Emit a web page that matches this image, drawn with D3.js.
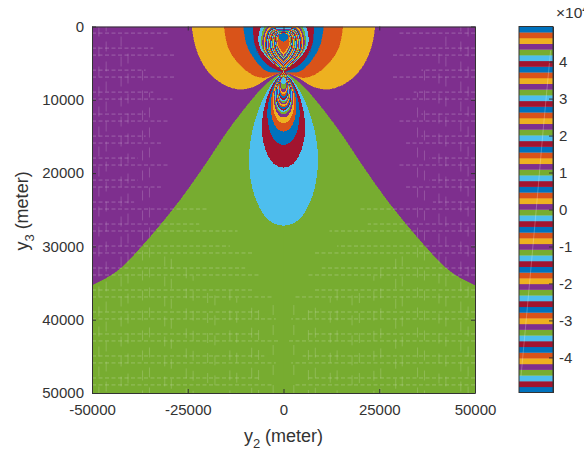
<!DOCTYPE html>
<html>
<head>
<meta charset="utf-8">
<script src="https://cdn.jsdelivr.net/npm/d3@7"></script>
<style>
  html, body { margin: 0; padding: 0; background: #fff; overflow: hidden; }
  svg { display: block; }
  text { font-family: "Liberation Sans", sans-serif; fill: #333; }
  .tick text { font-size: 15px; fill: #333; }
  .domain, .tick line { stroke: #333; }
</style>
</head>
<body>
<svg id="chart" width="584" height="453"></svg>
<script>
// Colour cycle of the map, in colormap order.
const cycle = ["#0072BD", "#D95319", "#EDB120", "#7E2F8E", "#77AC30", "#4DBEEE", "#A2142F"];

const xTicks = [-50000, -25000, 0, 25000, 50000];
const yTicks = [0, 10000, 20000, 30000, 40000, 50000];
const barTicks = [-4, -3, -2, -1, 0, 1, 2, 3, 4];
const barRange = [-4.95, 4.95];
const barLevels = 64;

// Edge of the green region, from the side of the plot up to the cusp: [|y2|, y3].
const greenEdge = [[50000, 35300], [46600, 34440], [42700, 33080], [34800, 28700], [27000, 23700], [20500, 18900], [14000, 13850], [5600, 8400], [2500, 7000], [0, 6200]];

// Side lobes above the cusp, outer to inner: [|y2|, y3] from the surface down to the cusp.
const yellowLobe = [[23900, 0], [23050, 2530], [20900, 5260], [17400, 7300], [12200, 8530], [7800, 8210], [3500, 6850], [400, 6170]];
const orangeLobe = [[15500, 0], [14350, 2980], [11750, 5030], [8250, 6530], [5200, 6980], [900, 6260]];
const blueLobe = [[10450, 0], [9550, 2530], [7400, 4570], [4350, 6080], [400, 6260]];
const redLobe = [[7850, 0], [7650, 2070], [6100, 4120], [3500, 5480], [400, 6170]];

// Closed rings above the cusp, continuing the levels of the lobes (first one light blue).
const upperWidth = [6525, 5873, 5481, 5168, 4907, 4698, 4489, 4307, 4124, 3967, 3811, 3654, 3497, 3341, 3184, 3028, 2871, 2714, 2558, 2401, 2245, 2088, 1958, 1827, 1697, 1566, 1253];
const upperTop = [-1160, -750, -340, -140, 0, 95, 180, 245, 315, 370, 425, 480, 520, 560, 600, 640, 680, 720, 750, 780, 805, 830, 860, 890, 900, 915, 955];
const upperBottom = [6070, 6070, 6000, 6000, 5930, 5930, 5865, 5800, 5730, 5660, 5590, 5520, 5390, 5320, 5250, 5115, 5050, 4980, 4840, 4700, 4570, 4430, 4300, 4160, 3960, 3615, 2115];

// Closed rings below the cusp, outer to inner (first one light blue).
const lowerWidth = [9005, 5664, 4254, 3393, 2871, 2558, 2349, 2192, 2062, 1931, 1827, 1723, 1618, 1514, 1409, 1305, 1201, 1096, 992, 887, 783, 626];
const lowerTop = [6070, 6140, 6210, 6250, 6270, 6320, 6340, 6370, 6400, 6420, 6450, 6480, 6510, 6530, 6560, 6590, 6620, 6640, 6670, 6700, 6750, 6890];
const lowerBottom = [27170, 19260, 16160, 14350, 13200, 12410, 11930, 11660, 11460, 11250, 11050, 10840, 10640, 10430, 10230, 10030, 9750, 9480, 9210, 8930, 8530, 7840];

// Faint seams in the field: rows (y3) with how close to the centre each reaches,
// columns (|y2|) with the depth each starts from.
const seamRows = [900, 2950, 3900, 5950, 6900, 8950, 9900, 11950, 12900, 14950, 15900, 17950, 18900, 20950, 21900, 23950, 24900, 26950, 27900, 29950, 30900, 32950, 33900, 35950, 36900, 38950, 39900, 41950, 42900, 44950, 45900, 47950, 48900];
const seamReach = [30000, 34000, 28000, 36000, 28000, 34000, 29000, 36000, 30000, 36000, 32000, 38000, 30000, 38000, 32000, 39000, 20000, 22000, 12000, 14000, 8000, 10000, 6000, 8000, 3000, 6000, 2000, 6000, 1000, 5000, 2000, 6000, 3000];
const seamCols = [48200, 46300, 42400, 40600, 36800, 35000, 31000, 29300, 25400, 23600, 19800, 17900, 14000, 12200, 8300, 6500, 2700];
const seamColTop = [0, 0, 0, 3000, 6000, 9000, 30000, 31000, 33000, 34000, 35000, 36000, 36000, 37000, 37000, 38000, 38000];

// Light streak across the colorbar: [position across the bar 0..1, value].
const barStreak = [[0.93, 4.3], [0.71, 2.14], [0.53, 0.24], [0.35, -1.6], [0.06, -4.5]];

const width = 584;
const height = 453;
const margin = {top: 26.5, right: 109, bottom: 60, left: 92};
const bar = {left: 519, right: 553, top: 26.5, bottom: 392.5};

const svg = d3.select("#chart");

const xScale = d3.scaleLinear().domain([-50000, 50000]).range([margin.left, width - margin.right]);
const yScale = d3.scaleLinear().domain([0, 50000]).range([margin.top, height - margin.bottom]);

svg.append("clipPath").attr("id", "plot")
  .append("rect")
  .attr("x", xScale(-50000)).attr("y", yScale(0))
  .attr("width", xScale(50000) - xScale(-50000))
  .attr("height", yScale(50000) - yScale(0));

const g = svg.append("g").attr("clip-path", "url(#plot)");

const curve = d3.line().x((v) => xScale(v[0])).y((v) => yScale(v[1])).curve(d3.curveCatmullRom.alpha(0.5));

// One side of a region: curved edge, closed along the given points.
function halfPath(edge, side, closing) {
  const pts = edge.map((v) => [side * v[0], v[1]]);
  const tail = closing.map((v) => `L${xScale(side * v[0])},${yScale(v[1])}`).join("");
  return curve(pts) + tail + "Z";
}

function drawSides(edge, closing, fill) {
  [-1, 1].forEach((side) => {
    g.append("path")
      .attr("d", halfPath(edge, side, closing))
      .attr("fill", fill)
      .attr("stroke", fill)
      .attr("stroke-width", 0.4)
      .attr("shape-rendering", "crispEdges");
  });
}

// Background level and the green region.
g.append("rect")
  .attr("x", xScale(-50000)).attr("y", yScale(0))
  .attr("width", xScale(50000) - xScale(-50000))
  .attr("height", yScale(50000) - yScale(0))
  .attr("fill", cycle[3]);
drawSides(greenEdge, [[0, 50000], [50000, 50000]], cycle[4]);

// Seams.
seamRows.forEach((row, i) => {
  [-1, 1].forEach((side) => {
    g.append("line")
      .attr("x1", xScale(side * 50000)).attr("x2", xScale(side * seamReach[i]))
      .attr("y1", yScale(row)).attr("y2", yScale(row))
      .attr("stroke", "#fff").attr("stroke-opacity", 0.28)
      .attr("stroke-width", 0.9)
      .attr("stroke-dasharray", "4 2.5");
  });
});
seamCols.forEach((col, i) => {
  [-1, 1].forEach((side) => {
    g.append("line")
      .attr("x1", xScale(side * col)).attr("x2", xScale(side * col))
      .attr("y1", yScale(seamColTop[i])).attr("y2", yScale(50000))
      .attr("stroke", "#fff").attr("stroke-opacity", 0.2)
      .attr("stroke-width", 0.9)
      .attr("stroke-dasharray", "10 10")
      .attr("stroke-dashoffset", i * 5);
  });
});

// Lobes above the cusp.
[[yellowLobe, cycle[2]], [orangeLobe, cycle[1]], [blueLobe, cycle[0]], [redLobe, cycle[6]]].forEach(([edge, fill]) => {
  drawSides(edge, [[0, edge[edge.length - 1][1]], [0, 0]], fill);
});

// Ring outlines as fractions of [half width, height], from one tip to the other side.
const lowerShape = [[0, 0], [0.4, 0.1], [0.8, 0.3], [1, 0.55], [0.85, 0.8], [0.45, 0.96], [0, 1]];
const upperShape = [[0, 1], [0.55, 0.8], [0.95, 0.55], [1, 0.35], [0.75, 0.05], [0, 0]];

function ringPath(shape, w, top, bottom) {
  const right = shape.map((v) => [v[0] * w, top + v[1] * (bottom - top)]);
  const left = right.slice(0, -1).reverse().map((v) => [-v[0], v[1]]);
  return curve(right.concat(left)) + "Z";
}

lowerWidth.forEach((w, i) => {
  g.append("path")
    .attr("d", ringPath(lowerShape, w, lowerTop[i], lowerBottom[i]))
    .attr("fill", cycle[(5 + i) % 7])
    .attr("shape-rendering", "crispEdges");
});
upperWidth.forEach((w, i) => {
  g.append("path")
    .attr("d", ringPath(upperShape, w, upperTop[i], upperBottom[i]))
    .attr("fill", cycle[(((5 - i) % 7) + 7) % 7])
    .attr("shape-rendering", "crispEdges");
});

// Axes.
const gridSize = 4;
svg.append("g").attr("transform", `translate(0, ${yScale(50000)})`)
  .call(d3.axisBottom(xScale).tickValues(xTicks).tickFormat(String).tickSize(-gridSize).tickSizeOuter(0).tickPadding(11));
svg.append("g").attr("transform", `translate(0, ${yScale(0)})`)
  .call(d3.axisTop(xScale).tickValues(xTicks).tickFormat("").tickSize(-gridSize).tickSizeOuter(0));
svg.append("g").attr("transform", `translate(${xScale(-50000)}, 0)`)
  .call(d3.axisLeft(yScale).tickValues(yTicks).tickFormat(String).tickSize(-gridSize).tickSizeOuter(0).tickPadding(8));
svg.append("g").attr("transform", `translate(${xScale(50000)}, 0)`)
  .call(d3.axisRight(yScale).tickValues(yTicks).tickFormat("").tickSize(-gridSize).tickSizeOuter(0));

const xLabel = svg.append("text")
  .attr("x", 283.5).attr("y", 442)
  .attr("text-anchor", "middle").attr("font-size", 18);
xLabel.append("tspan").text("y");
xLabel.append("tspan").attr("dy", 6).attr("font-size", 13).text("2");
xLabel.append("tspan").attr("dy", -6).text(" (meter)");

const yLabel = svg.append("text")
  .attr("transform", "translate(27.5, 211) rotate(-90)")
  .attr("text-anchor", "middle").attr("font-size", 18);
yLabel.append("tspan").text("y");
yLabel.append("tspan").attr("dy", 6).attr("font-size", 13).text("3");
yLabel.append("tspan").attr("dy", -6).text(" (meter)");

// Colorbar.
const barScale = d3.scaleLinear().domain(barRange).range([bar.bottom, bar.top]);
const barX = d3.scaleLinear().domain([0, 1]).range([bar.left, bar.right]);
const levels = d3.range(barLevels);
const levelStep = (barRange[1] - barRange[0]) / barLevels;

svg.append("g").selectAll("rect")
  .data(levels)
  .join("rect")
  .attr("x", bar.left)
  .attr("width", bar.right - bar.left)
  .attr("y", (i) => barScale(barRange[0] + (i + 1) * levelStep))
  .attr("height", barScale(barRange[0]) - barScale(barRange[0] + levelStep) + 0.3)
  .attr("fill", (i) => cycle[(barLevels - 1 - i) % 7]);

svg.append("path")
  .attr("d", d3.line().x((v) => barX(v[0])).y((v) => barScale(v[1])).curve(d3.curveCatmullRom)(barStreak))
  .attr("fill", "none")
  .attr("stroke", "#fff").attr("stroke-opacity", 0.3).attr("stroke-width", 0.8);

svg.append("g").attr("transform", `translate(${bar.right}, 0)`)
  .call(d3.axisRight(barScale).tickValues(barTicks).tickFormat(String).tickSize(-gridSize).tickSizeOuter(0).tickPadding(6));
svg.append("rect")
  .attr("x", bar.left).attr("y", bar.top)
  .attr("width", bar.right - bar.left).attr("height", bar.bottom - bar.top)
  .attr("fill", "none").attr("stroke", "#333");

const multiplier = svg.append("text").attr("x", 556).attr("y", 18).attr("font-size", 15.5);
multiplier.append("tspan").text("×10");
multiplier.append("tspan").attr("dy", -5).attr("font-size", 11).text("4");
</script>
</body>
</html>
